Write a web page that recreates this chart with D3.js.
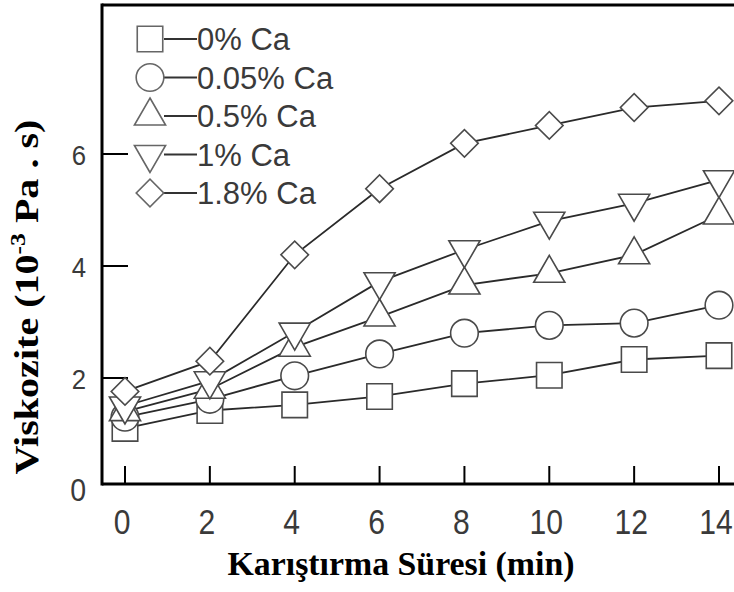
<!DOCTYPE html>
<html>
<head>
<meta charset="utf-8">
<script src="https://cdn.jsdelivr.net/npm/d3@7"></script>
<style>
  html, body { margin: 0; padding: 0; background: #fff; }
  svg { display: block; }
</style>
</head>
<body>
<svg id="chart" width="734" height="592"></svg>
<script>
// ---- data ----
const times = [0, 2, 4, 6, 8, 10, 12, 14];
const ca0   = [1.10, 1.42, 1.52, 1.67, 1.90, 2.05, 2.33, 2.40];
const ca005 = [1.30, 1.62, 2.04, 2.43, 2.80, 2.94, 2.98, 3.30];
const ca05  = [1.40, 1.80, 2.55, 3.09, 3.66, 3.87, 4.20, 4.91];
const ca1   = [1.50, 1.95, 2.82, 3.72, 4.29, 4.80, 5.12, 5.54];
const ca18  = [1.76, 2.30, 4.20, 5.38, 6.19, 6.51, 6.83, 6.95];
const seriesNames = ["0% Ca", "0.05% Ca", "0.5% Ca", "1% Ca", "1.8% Ca"];
const seriesShapes = ["square", "circle", "triangle", "triangleDown", "diamond"];
const seriesValues = [ca0, ca005, ca05, ca1, ca18];
const xTicks = [0, 2, 4, 6, 8, 10, 12, 14];
const yTicks = [2, 4, 6];
const yLabels = [0, 2, 4, 6];
const xTitle = "Karıştırma Süresi (min)";

// ---- layout ----
const svg = d3.select("#chart");
const frameLeft = 102, frameTop = 5, frameBottom = 484;
const x = d3.scaleLinear().domain([0, 14]).range([125, 719]);
const y = d3.scaleLinear().domain([0, 6]).range([490, 154]);

const lineColor = "#2a2a2a";
const markStroke = "#4a4a4a";

function symbolPath(shape) {
  switch (shape) {
    case "square": return d3.symbol(d3.symbolSquare, 650)();
    case "circle": return d3.symbol(d3.symbolCircle, 600)();
    case "triangle": return d3.symbol(d3.symbolTriangle, 420)();
    case "triangleDown": return d3.symbol(d3.symbolTriangle, 420)();
    case "diamond": return d3.symbol(d3.symbolSquare, 380)();
  }
}
function symbolRotate(shape) {
  if (shape === "triangleDown") return 180;
  if (shape === "diamond") return 45;
  return 0;
}

// frame
svg.append("line").attr("x1", frameLeft).attr("x2", frameLeft).attr("y1", frameTop - 1.5).attr("y2", frameBottom + 1.5)
  .attr("stroke", "#000").attr("stroke-width", 3);
svg.append("line").attr("x1", frameLeft).attr("x2", 740).attr("y1", frameTop).attr("y2", frameTop)
  .attr("stroke", "#000").attr("stroke-width", 3);
svg.append("line").attr("x1", frameLeft).attr("x2", 740).attr("y1", frameBottom).attr("y2", frameBottom)
  .attr("stroke", "#000").attr("stroke-width", 3);

// ticks (inward)
svg.append("g").selectAll("line").data(xTicks).join("line")
  .attr("x1", d => x(d)).attr("x2", d => x(d))
  .attr("y1", frameBottom).attr("y2", frameBottom - 18)
  .attr("stroke", "#000").attr("stroke-width", 2);
svg.append("g").selectAll("line").data(yTicks).join("line")
  .attr("x1", frameLeft).attr("x2", frameLeft + 26)
  .attr("y1", d => y(d)).attr("y2", d => y(d))
  .attr("stroke", "#000").attr("stroke-width", 2);

// tick labels (slightly condensed, like the reference)
svg.append("g").selectAll("text").data(xTicks).join("text")
  .attr("transform", d => `translate(${x(d) - 3},534) scale(0.86,1)`)
  .attr("text-anchor", "middle")
  .attr("font-family", "'Liberation Sans', Arial, sans-serif")
  .attr("font-size", 35).attr("fill", "#3a3a3a")
  .text(d => d);
svg.append("g").selectAll("text").data(yLabels).join("text")
  .attr("transform", d => `translate(86,${y(d) + 11}) scale(0.92,1)`)
  .attr("text-anchor", "end")
  .attr("font-family", "'Liberation Sans', Arial, sans-serif")
  .attr("font-size", d => d === 0 ? 31 : 28).attr("fill", "#3a3a3a")
  .text(d => d);

// axis titles
const xt = svg.append("text")
  .attr("x", 401).attr("y", 575)
  .attr("text-anchor", "middle")
  .attr("font-family", "'Liberation Serif', 'Times New Roman', serif")
  .attr("font-weight", "bold").attr("font-size", 33).attr("fill", "#000")
  .text(xTitle);
{
  const w = xt.node().getComputedTextLength();
  const s = 347 / w;
  xt.attr("x", null).attr("y", null)
    .attr("transform", `translate(401,575) scale(${s},1)`);
}

const yt = svg.append("text")
  .attr("text-anchor", "middle")
  .attr("font-family", "'Liberation Serif', 'Times New Roman', serif")
  .attr("font-weight", "bold").attr("font-size", 33).attr("fill", "#000");
yt.append("tspan").text("Viskozite (10");
yt.append("tspan").attr("dy", -13).attr("font-size", 21).text("-3");
yt.append("tspan").attr("dy", 13).text(" Pa . s)");
{
  const w = yt.node().getBBox().width;
  const s = 355 / w;
  yt.attr("transform", `translate(38,297) rotate(-90) scale(${s},1)`);
}

// lines
const lineGen = d3.line().x((d, i) => x(times[i])).y(d => y(d));
svg.append("g").selectAll("path").data(seriesValues).join("path")
  .attr("d", d => lineGen(d))
  .attr("fill", "none").attr("stroke", lineColor).attr("stroke-width", 1.8);

// markers
seriesValues.forEach((vals, si) => {
  const shape = seriesShapes[si];
  svg.append("g").selectAll("path").data(vals).join("path")
    .attr("d", symbolPath(shape))
    .attr("transform", (d, i) => `translate(${x(times[i])},${y(d)}) rotate(${symbolRotate(shape)})`)
    .attr("fill", "#fff").attr("stroke", markStroke).attr("stroke-width", 1.6);
});

// legend
const legendY0 = 39, legendStep = 38.5;
const lg = svg.append("g");
seriesNames.forEach((name, i) => {
  const cy = legendY0 + i * legendStep;
  const shape = seriesShapes[i];
  lg.append("line").attr("x1", 164).attr("x2", 197).attr("y1", cy).attr("y2", cy)
    .attr("stroke", "#333").attr("stroke-width", 2);
  lg.append("path").attr("d", symbolPath(shape))
    .attr("transform", `translate(150,${cy}) rotate(${symbolRotate(shape)})`)
    .attr("fill", "#fff").attr("stroke", "#666").attr("stroke-width", 1.6);
  lg.append("text").attr("x", 197).attr("y", cy + 11)
    .attr("font-family", "'Liberation Sans', Arial, sans-serif")
    .attr("font-size", 31).attr("fill", "#3a3a3a")
    .text(name);
});
</script>
</body>
</html>
